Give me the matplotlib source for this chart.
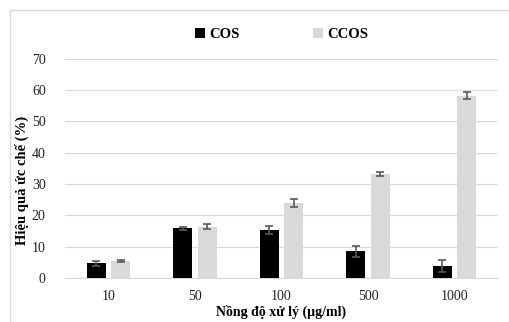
import numpy as np
import matplotlib.pyplot as plt
from matplotlib.patches import Rectangle

plt.rcParams['font.family'] = ['Liberation Serif', 'DejaVu Serif']

nong_do = ['10', '50', '100', '500', '1000']
cos = [4.6, 15.8, 15.3, 8.5, 3.7]
cos_err = [0.8, 0.5, 1.3, 1.8, 1.9]
ccos = [5.4, 16.3, 24.0, 33.1, 58.3]
ccos_err = [0.4, 0.8, 1.3, 0.6, 1.0]

fig = plt.figure(figsize=(5.09, 3.22), dpi=100)
ax = fig.add_axes([0.128, 0.137, 0.850, 0.680])

x = np.arange(len(nong_do))
w = 0.22
ekw = dict(ecolor='#595959', elinewidth=1.2, capsize=3, capthick=1.2)
ax.bar(x - 0.14, cos, w, yerr=cos_err, color='black', label='COS', error_kw=ekw, zorder=3)
ax.bar(x + 0.14, ccos, w, yerr=ccos_err, color='#d9d9d9', label='CCOS', error_kw=ekw, zorder=3)

ax.set_ylim(0, 70)
ax.set_xlim(-0.5, 4.5)
ax.set_yticks(range(0, 71, 10))
ax.set_xticks(x)
ax.set_xticklabels(nong_do)
ax.grid(axis='y', color='#d9d9d9', linewidth=0.8, zorder=0)
for s in ['top', 'right', 'left']:
    ax.spines[s].set_visible(False)
ax.spines['bottom'].set_color('#d9d9d9')
ax.tick_params(length=0, labelsize=10, colors='#222222')
ax.tick_params(axis='x', pad=9)
ax.tick_params(axis='y', pad=14)

fig.text(0.5 + 0.128 / 2 - 0.022 / 2, 3 / 322, 'Nồng độ xử lý (µg/ml)', fontsize=10,
         fontweight='bold', ha='center', va='bottom')
fig.text(22 / 509, 1 - 180 / 322, 'Hiệu quả ức chế (%)', fontsize=10.5, fontweight='bold',
         rotation=90, ha='center', va='center')

ax.legend(loc='lower center', bbox_to_anchor=(0.5, 1.02), ncol=2, frameon=False,
          prop={'size': 10.5, 'weight': 'bold'}, handlelength=0.7, handleheight=0.7,
          columnspacing=5, handletextpad=0.3)

fig.patches.append(Rectangle((10 / 509, 0), 1, 1 - 10 / 322, transform=fig.transFigure,
                             fill=False, edgecolor='#d9d9d9', linewidth=1))

fig.savefig('out.png', dpi=100)
